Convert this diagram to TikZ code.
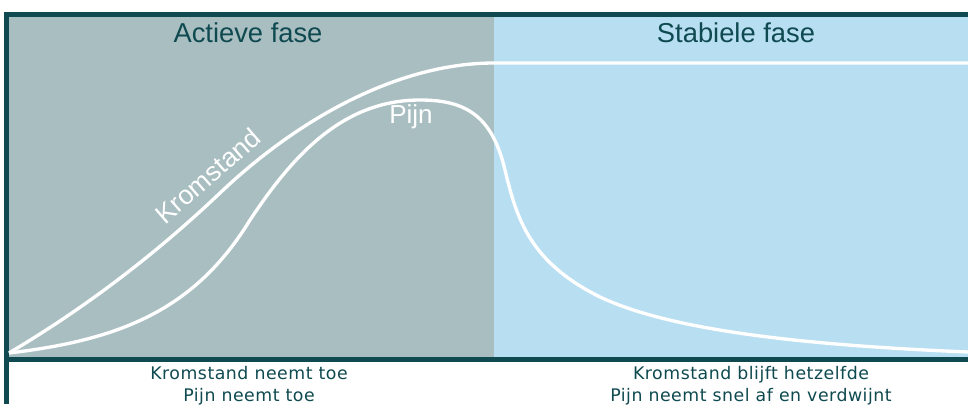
\documentclass[tikz,border=0pt]{standalone}
\usepackage{fontspec}
\newfontfamily\labelfont{Liberation Sans}
\newfontfamily\notefont[LetterSpace=3]{DejaVu Sans}
\definecolor{activegray}{HTML}{A9BEC1}
\definecolor{stableblue}{HTML}{B8DEF2}
\definecolor{darkteal}{HTML}{0F4A50}
\tikzset{
  phase/.style={anchor=base, text=darkteal, font=\labelfont\fontsize{20.5}{24}\selectfont},
  curvelabel/.style={anchor=base, text=white, font=\labelfont\fontsize{19.5}{23}\selectfont},
  note/.style={anchor=base, text=darkteal, font=\notefont\fontsize{13}{15}\selectfont},
  curve/.style={white, line width=2.5pt},
}
\begin{document}
\begin{tikzpicture}[x=0.75pt, y=-0.75pt]
			\useasboundingbox (0,0) rectangle (968,404);
			\fill[white] (0,0) rectangle (968,404);
			
			\fill[activegray] (9,17) rectangle (494,357);
			\fill[stableblue] (494,17) rectangle (968,357);
			
			\draw[darkteal, line width=3.4pt] (4,14.5) -- (968,14.5);
			\draw[darkteal, line width=3.4pt] (6.5,12) -- (6.5,404);
			\draw[darkteal, line width=3.6pt] (4,359.5) -- (968,359.5);
			
			\node[phase] (actief) at (248,42) {Actieve fase};
			\node[phase] (stabiel) at (736,42) {Stabiele fase};
			
			% kromstand
			\draw[curve] (9,353) .. controls (90,305) and (160,250) .. (220,193)
			  .. controls (300,117) and (400,63) .. (494,63) -- (968,63);
			\node[curvelabel, rotate=41, font=\labelfont\fontsize{20}{24}\selectfont] (krom) at (214,183) {Kromstand};
			
			% pijn
			\draw[curve] (9,353) .. controls (120,340) and (195,310) .. (250,220)
			  .. controls (290,160) and (340,100) .. (420,100)
			  .. controls (465,100) and (492,115) .. (505,170)
			  .. controls (517,220) and (530,262) .. (600,297)
			  .. controls (670,330) and (800,345) .. (968,352);
			\node[curvelabel] (pijn) at (411,123) {Pijn};
			
			\node[note] (actiefkrom) at (249,379) {Kromstand neemt toe};
			\node[note] (actiefpijn) at (249,401) {Pijn neemt toe};
			\node[note] (stabielkrom) at (751,379) {Kromstand blijft hetzelfde};
			\node[note] (stabielpijn) at (751,401) {Pijn neemt snel af en verdwijnt};
\end{tikzpicture}
\end{document}
